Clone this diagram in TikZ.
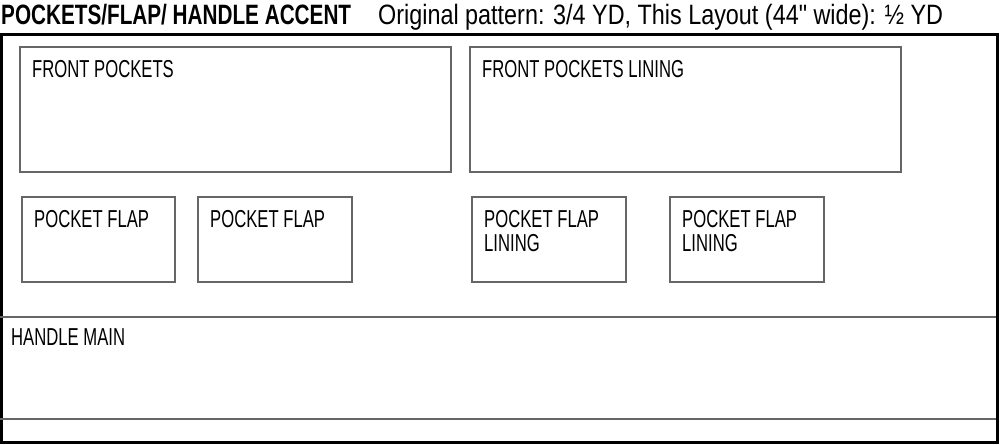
\documentclass[tikz,border=0pt]{standalone}
\usepackage{fontspec}
\setmainfont{Liberation Sans}[FakeStretch=0.68, BoldFeatures={FakeStretch=0.74}]
\newfontfamily\yardfont{Liberation Sans}[FakeStretch=0.835]
\usepackage{xcolor}
\definecolor{piecegray}{HTML}{666666}

\begin{document}
\begin{tikzpicture}[x=1pt,y=-1pt,
        piece/.style={draw=piecegray, line width=2pt, rectangle, inner sep=0pt, outer sep=0pt, anchor=north west},
        tag/.style={font=\fontsize{24.5}{24}\selectfont, anchor=north west, inner sep=0pt, align=left, xshift=12pt, yshift=-13pt}]
        \useasboundingbox (0,0) rectangle (1000,444);

        \node[anchor=base west, inner sep=0pt, font=\fontsize{28}{28}\selectfont\bfseries] (title) at (1,25) {POCKETS/FLAP/ HANDLE ACCENT};
        \node[anchor=base west, inner sep=0pt, font=\fontsize{28}{28}\selectfont\yardfont] (yardage) at (378,25) {Original pattern: 3/4 YD, This Layout (44" wide): ½ YD};

        \draw[line width=3pt] (1.5,34.5) rectangle (997.5,442.5);

        \node[piece, minimum width=431pt, minimum height=125pt, label={[tag]north west:FRONT POCKETS}] (front) at (20,47) {};
        \node[piece, minimum width=431pt, minimum height=125pt, label={[tag]north west:FRONT POCKETS LINING}] (frontlining) at (470,47) {};

        \node[piece, minimum width=153pt, minimum height=85pt, label={[tag]north west:POCKET FLAP}] (flapA) at (22,197) {};
        \node[piece, minimum width=154pt, minimum height=85pt, label={[tag]north west:POCKET FLAP}] (flapB) at (198,197) {};
        \node[piece, minimum width=154pt, minimum height=85pt, label={[tag]north west:POCKET FLAP\\LINING}] (liningA) at (472,197) {};
        \node[piece, minimum width=154pt, minimum height=85pt, label={[tag]north west:POCKET FLAP\\LINING}] (liningB) at (670,197) {};

        \node[rectangle, inner sep=0pt, outer sep=0pt, anchor=north west, minimum width=996pt, minimum height=102pt, label={[tag, xshift=-1pt, yshift=2pt]north west:HANDLE MAIN}] (handle) at (0,317) {};
        \draw[piecegray, line width=2pt] (handle.north west) -- (handle.north east);
        \draw[piecegray, line width=2pt] (handle.south west) -- (handle.south east);
    \end{tikzpicture}
\end{document}
